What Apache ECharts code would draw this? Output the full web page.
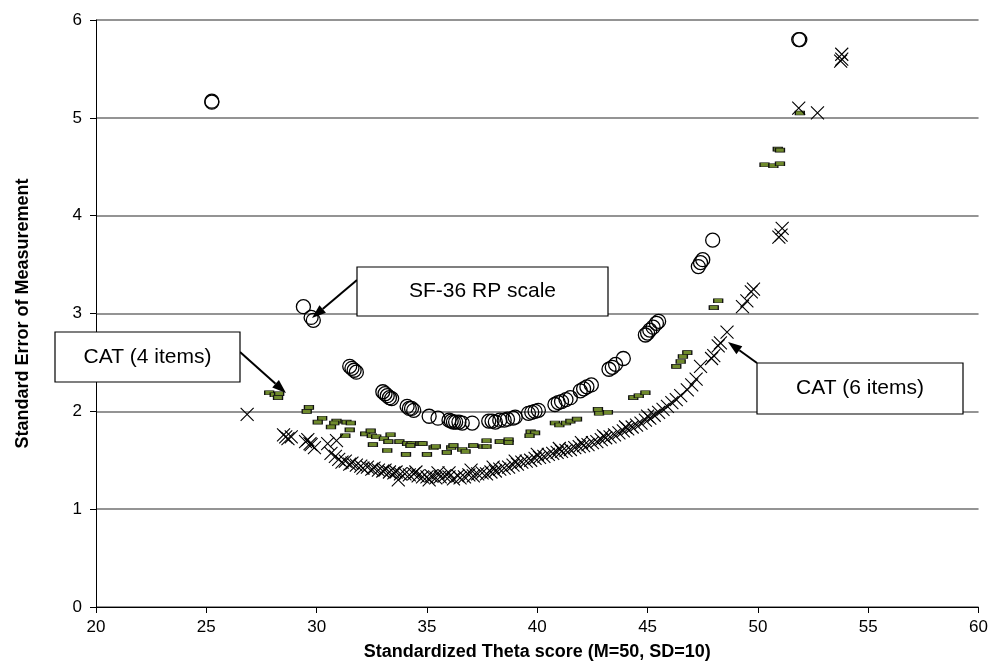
<!DOCTYPE html>
<html>
<head>
<meta charset="utf-8">
<script src="https://cdn.jsdelivr.net/npm/echarts@6/dist/echarts.min.js"></script>
<style>html,body{margin:0;padding:0;background:#fff;}#c{width:991px;height:669px;}</style>
</head>
<body>
<div id="c"></div>
<script>
// ---- data ----
const xTicks = [20, 25, 30, 35, 40, 45, 50, 55, 60];
const yTicks = [0, 1, 2, 3, 4, 5, 6];
const seriesNames = ['SF-36 RP scale', 'CAT (4 items)', 'CAT (6 items)'];

const sf36 = [
  [25.25,5.16],[25.25,5.17],
  [29.4,3.07],[29.75,2.96],[29.85,2.93],
  [31.5,2.46],[31.6,2.44],[31.7,2.42],[31.8,2.40],
  [33.0,2.20],[33.1,2.18],[33.2,2.16],[33.3,2.14],[33.4,2.13],
  [34.1,2.05],[34.2,2.03],[34.3,2.03],[34.4,2.01],
  [35.1,1.95],[35.5,1.93],
  [36.0,1.91],[36.1,1.90],[36.2,1.89],[36.3,1.89],[36.45,1.89],[36.6,1.88],
  [37.05,1.88],
  [37.8,1.90],[37.95,1.90],[38.1,1.89],[38.3,1.91],[38.5,1.91],[38.65,1.92],[38.9,1.93],[39.0,1.94],
  [39.6,1.98],[39.75,1.99],[39.9,2.00],[40.05,2.01],
  [40.8,2.07],[40.95,2.09],[41.1,2.10],[41.3,2.12],[41.5,2.14],
  [41.95,2.21],[42.1,2.23],[42.25,2.25],[42.45,2.27],
  [43.25,2.43],[43.4,2.45],[43.55,2.48],[43.9,2.54],
  [44.9,2.78],[45.0,2.80],[45.1,2.83],[45.25,2.86],[45.4,2.90],[45.5,2.92],
  [47.3,3.48],[47.4,3.52],[47.5,3.55],[47.95,3.75],
  [51.85,5.80],[51.9,5.80]
];

const cat4 = [
  [27.85,2.19],[28.1,2.17],[28.3,2.18],[28.25,2.14],
  [29.65,2.04],[29.55,2.00],
  [30.25,1.93],[30.05,1.89],
  [30.9,1.90],[30.8,1.88],[30.65,1.84],[31.35,1.89],[31.55,1.88],
  [31.5,1.81],[31.3,1.75],
  [32.2,1.77],[32.45,1.80],[32.5,1.75],[32.7,1.74],[32.55,1.66],
  [33.05,1.72],[33.35,1.76],[33.25,1.69],[33.2,1.60],
  [33.75,1.69],[34.1,1.67],[34.3,1.67],[34.25,1.65],[34.05,1.56],[34.7,1.67],[35.0,1.56],
  [34.8,1.67],[35.3,1.63],[35.4,1.64],
  [36.1,1.63],[36.2,1.65],[35.9,1.58],
  [36.6,1.61],[36.75,1.59],
  [37.1,1.65],[37.55,1.64],[37.7,1.64],[37.7,1.70],
  [38.3,1.69],[38.7,1.71],[38.7,1.68],
  [39.7,1.79],[39.9,1.78],[39.65,1.75],
  [40.8,1.88],[41.0,1.86],[41.3,1.88],[41.5,1.90],[41.8,1.92],
  [42.75,2.02],[42.8,1.98],[43.2,1.99],
  [44.35,2.14],[44.6,2.16],[44.9,2.19],
  [46.3,2.46],[46.5,2.51],[46.8,2.60],[46.6,2.56],
  [48.2,3.13],[48.0,3.06],
  [50.3,4.52],[50.7,4.51],[51.0,4.53],[50.9,4.68],[51.0,4.67],
  [51.9,5.05]
];

const cat6 = [
  [26.85,1.97],
  [28.5,1.76],[28.6,1.74],[28.85,1.74],[28.7,1.72],
  [29.5,1.69],[29.6,1.71],[29.75,1.66],[29.9,1.63],[29.7,1.67],
  [30.5,1.67],[30.9,1.70],[30.65,1.57],[30.85,1.54],[31.0,1.51],[31.15,1.48],[31.3,1.49],
  [31.5,1.46],[31.6,1.47],[31.8,1.45],[32.0,1.44],[32.1,1.42],[32.3,1.43],[32.5,1.41],
  [32.6,1.42],[32.8,1.40],[33.0,1.39],[33.1,1.40],[33.3,1.38],[33.5,1.37],[33.7,1.30],
  [33.6,1.38],[33.8,1.36],[34.0,1.36],[34.2,1.35],[34.4,1.36],[34.6,1.34],[34.8,1.33],
  [35.0,1.33],[35.1,1.30],[35.2,1.34],[35.4,1.32],[35.6,1.33],[35.8,1.34],[36.0,1.33],
  [36.2,1.31],[36.4,1.34],[36.5,1.32],[36.7,1.33],[36.9,1.35],[37.1,1.34],[37.3,1.36],
  [37.5,1.37],[37.7,1.36],[37.9,1.38],[38.1,1.39],[38.3,1.41],[38.5,1.42],[38.7,1.43],
  [38.9,1.45],[39.1,1.46],[39.3,1.48],[39.5,1.49],[39.7,1.50],[39.9,1.52],[40.1,1.53],
  [40.3,1.54],[40.5,1.56],[40.7,1.57],[40.9,1.58],[41.1,1.59],[41.3,1.60],[41.5,1.61],
  [41.7,1.63],[41.9,1.64],[42.1,1.65],[42.3,1.66],[42.5,1.68],[42.7,1.69],[42.9,1.71],
  [43.1,1.73],[43.3,1.74],[43.5,1.76],[43.7,1.78],[43.9,1.80],[44.1,1.82],[44.3,1.84],
  [44.5,1.86],[44.7,1.88],[44.9,1.91],[45.1,1.93],[45.3,1.96],[45.5,1.99],[45.7,2.02],
  [45.9,2.05],[46.1,2.09],[46.3,2.12],[46.5,2.16],[46.8,2.22],[47.0,2.27],[47.2,2.33],
  [34.5,1.38],[35.5,1.37],[36.0,1.37],[37.0,1.40],[38.0,1.43],[39.0,1.49],[40.0,1.56],
  [41.0,1.62],[42.0,1.68],[43.0,1.75],[44.0,1.84],[45.0,1.95],
  [47.4,2.46],[47.9,2.54],[48.0,2.57],[48.2,2.67],[48.3,2.70],[48.6,2.81],
  [49.3,3.07],[49.5,3.13],[49.7,3.22],[49.8,3.25],
  [50.95,3.78],[51.05,3.80],[51.1,3.87],
  [51.85,5.10],[52.7,5.05],
  [53.75,5.58],[53.8,5.60],[53.8,5.65]
];

// ---- chart ----
const FONT = '"Liberation Sans", Arial, sans-serif';
const chart = echarts.init(document.getElementById('c'), null, {renderer: 'canvas'});

function arrow(x1, y1, x2, y2) {
  const ang = Math.atan2(y2 - y1, x2 - x1);
  const L = 14, W = 5;
  const bx = x2 - L * Math.cos(ang), by = y2 - L * Math.sin(ang);
  const px = -Math.sin(ang) * W, py = Math.cos(ang) * W;
  return [
    {type: 'line', shape: {x1: x1, y1: y1, x2: bx, y2: by}, style: {stroke: '#000', lineWidth: 2}, z: 100},
    {type: 'polygon', shape: {points: [[x2, y2], [bx + px, by + py], [bx - px, by - py]]}, style: {fill: '#000'}, z: 100}
  ];
}
function box(x, y, w, h, text) {
  return {
    type: 'group', z: 100, children: [
      {type: 'rect', shape: {x: x, y: y, width: w, height: h}, style: {fill: '#fff', stroke: '#000', lineWidth: 1.2}, z: 100},
      {type: 'text', x: x + w / 2, y: y + h / 2, style: {text: text, font: '21px ' + FONT, fill: '#000', textAlign: 'center', textVerticalAlign: 'middle'}, z: 101}
    ]
  };
}

const graphics = [].concat(
  arrow(357, 280, 312, 318),
  arrow(240, 352, 286, 393),
  arrow(757, 363, 728, 342),
  [box(357, 267, 251, 49, seriesNames[0]), box(55, 332, 185, 50, seriesNames[1]), box(757, 363, 206, 51, seriesNames[2])]
);

const crossPath = 'path://M0,0L10,10M10,0L0,10';

chart.setOption({
  animation: false,
  backgroundColor: '#fff',
  grid: {left: 96, right: 11, top: 20, bottom: 62, containLabel: false},
  xAxis: {
    type: 'value', min: xTicks[0], max: xTicks[xTicks.length - 1], interval: 5,
    name: 'Standardized Theta score (M=50, SD=10)', nameLocation: 'middle', nameGap: 36,
    nameTextStyle: {fontFamily: FONT, fontWeight: 'bold', fontSize: 18, color: '#000'},
    axisLine: {lineStyle: {color: '#000', width: 1}},
    axisTick: {show: true, length: 6, lineStyle: {color: '#000'}},
    axisLabel: {fontFamily: FONT, fontSize: 17, color: '#000', margin: 12},
    splitLine: {show: false}
  },
  yAxis: {
    type: 'value', min: yTicks[0], max: yTicks[yTicks.length - 1], interval: 1,
    name: 'Standard Error of Measurement', nameLocation: 'middle', nameGap: 64,
    nameTextStyle: {fontFamily: FONT, fontWeight: 'bold', fontSize: 18, color: '#000'},
    axisLine: {show: true, lineStyle: {color: '#000', width: 1}},
    axisTick: {show: true, length: 6, lineStyle: {color: '#000'}},
    axisLabel: {fontFamily: FONT, fontSize: 17, color: '#000', margin: 14},
    splitLine: {show: true, lineStyle: {color: '#707070', width: 1.5}}
  },
  series: [
    {
      name: seriesNames[0], type: 'scatter', data: sf36, symbol: 'circle', symbolSize: 14,
      itemStyle: {color: 'rgba(0,0,0,0)', borderColor: '#000', borderWidth: 1.3, opacity: 1}, z: 3
    },
    {
      name: seriesNames[1], type: 'scatter', data: cat4, symbol: 'rect', symbolSize: [9, 4],
      itemStyle: {color: '#6f8a2c', borderColor: '#111', borderWidth: 0.9, opacity: 1}, z: 4
    },
    {
      name: seriesNames[2], type: 'scatter', data: cat6, symbol: crossPath, symbolSize: 13,
      itemStyle: {color: 'rgba(0,0,0,0)', borderColor: '#000', borderWidth: 1.1, opacity: 1}, z: 5
    }
  ],
  graphic: graphics
});
</script>
</body>
</html>
